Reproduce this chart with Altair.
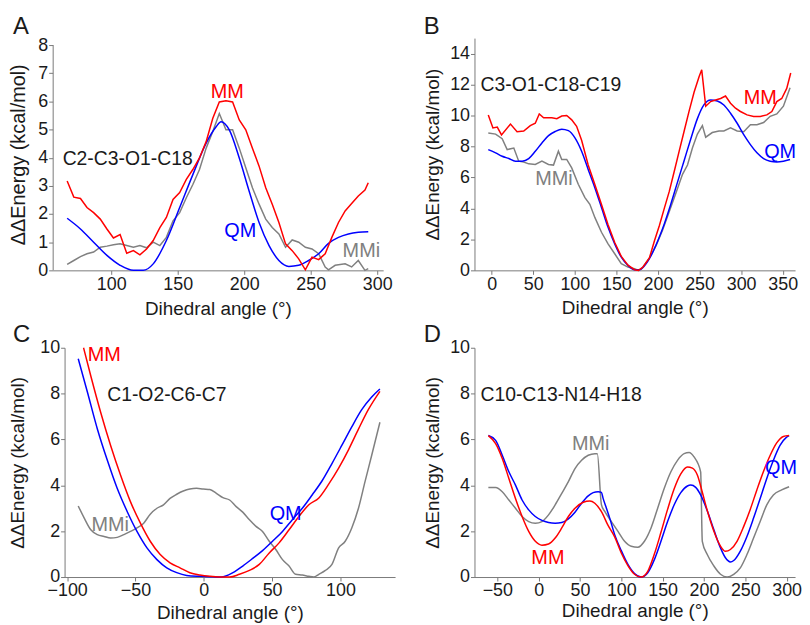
import altair as alt
import pandas as pd

FONT = "Liberation Sans"
RED, BLUE, GRAY, BLACK = "#ff0000", "#0000ff", "#808080", "#1a1a1a"
AXIS = "#7a7a7a"

# ---------------- Panel A : C2-C3-O1-C18 ----------------
a_mm_angle = [66.9, 71.9, 76.9, 81.8, 86.8, 91.8, 96.8, 101.7, 106.7, 111.7, 116.7, 121.6, 126.6, 131.6, 136.6,
              141.5, 146.5, 151.5, 156.5, 161.4, 166.4, 171.4, 176.4, 181.3, 186.3, 191.3, 196.3, 201.2, 206.2,
              211.2, 216.2, 221.1, 226.1, 231.1, 236.1, 241.0, 246.0, 251.0, 256.0, 260.9, 265.9, 270.9, 275.9,
              280.8, 285.8, 290.8, 293.3]
a_mm_energy = [3.17, 2.60, 2.55, 2.23, 2.05, 1.82, 1.47, 1.15, 1.27, 0.61, 0.70, 0.55, 0.76, 1.06, 1.52,
               1.88, 2.52, 2.76, 3.23, 3.58, 3.99, 4.57, 5.40, 5.98, 6.02, 5.98, 5.34, 4.99, 4.34,
               3.70, 2.93, 2.35, 1.70, 0.94, 0.70, 0.41, 0.02, 0.47, 0.38, 0.59, 1.17, 1.70, 2.11,
               2.37, 2.64, 2.85, 3.11]
a_qm_angle = [66.9, 76.9, 86.8, 96.8, 106.7, 116.7, 124.1, 131.6, 141.5, 151.5, 161.4, 171.4, 178.9, 182.6,
              188.8, 196.3, 203.7, 211.2, 218.7, 226.1, 233.6, 241.0, 248.5, 256.0, 263.4, 270.9, 278.4,
              285.8, 293.3]
a_qm_energy = [1.85, 1.47, 1.00, 0.53, 0.18, 0.00, 0.00, 0.23, 1.06, 2.23, 3.40, 4.52, 5.10, 5.28,
               4.99, 3.99, 2.82, 1.70, 0.88, 0.35, 0.14, 0.18, 0.35, 0.59, 0.96, 1.17, 1.29,
               1.35, 1.37]
a_mmi_angle = [66.9, 71.9, 76.9, 81.8, 86.8, 91.8, 96.8, 101.7, 106.7, 111.7, 116.7, 121.6, 126.6, 131.6,
               136.6, 141.5, 146.5, 151.5, 156.5, 161.4, 166.4, 171.4, 176.4, 181.3, 186.3, 191.3, 196.3,
               201.2, 206.2, 211.2, 216.2, 221.1, 226.1, 231.1, 236.1, 241.0, 246.0, 251.0, 256.0, 260.9,
               263.4, 268.4, 275.9, 280.8, 285.8, 290.8, 293.3]
a_mmi_energy = [0.21, 0.35, 0.49, 0.59, 0.65, 0.82, 0.86, 0.91, 0.94, 0.88, 0.82, 0.88, 0.80, 1.00,
                0.88, 1.17, 1.76, 2.05, 2.58, 3.05, 3.58, 4.34, 4.93, 5.57, 4.99, 4.99, 4.34,
                3.64, 2.93, 2.35, 1.82, 1.52, 1.29, 0.82, 1.08, 1.00, 0.82, 0.76, 0.59, 0.12,
                0.02, 0.18, 0.23, 0.12, 0.35, 0.00, 0.06]
a_label_text = ["MM", "QM", "MMi"]
a_label_x = [187.3, 197.0, 288.1]
a_label_y = [6.34, 1.41, 0.70]

# ---------------- Panel B : C3-O1-C18-C19 ----------------
b_mm_angle = [-4.0, 1.6, 6.8, 11.9, 22.7, 30.6, 38.6, 46.5, 52.5, 57.3, 62.5, 72.4, 78.4, 84.3, 90.3,
              96.3, 102.2, 108.2, 116.1, 124.1, 132.1, 140.0, 148.0, 155.9, 163.9, 171.8, 176.6, 181.8,
              189.7, 195.7, 201.7, 207.6, 213.6, 219.6, 225.5, 231.5, 237.5, 243.4, 249.4, 252.6, 257.4,
              263.3, 269.3, 275.3, 281.2, 287.2, 293.2, 299.1, 307.1, 315.0, 323.0, 330.9, 336.9, 342.9,
              348.8, 354.8, 359.6]
b_mm_energy = [10.04, 9.20, 9.25, 8.75, 9.45, 8.95, 9.00, 9.35, 9.50, 10.10, 9.85, 9.85, 9.80, 9.97, 10.00,
               9.72, 9.30, 8.40, 6.80, 5.55, 4.25, 2.95, 1.80, 0.90, 0.33, 0.04, 0.00, 0.20,
               0.80, 1.90, 2.90, 4.00, 5.10, 6.40, 7.70, 9.00, 10.30, 11.50, 12.50, 12.95, 10.60,
               10.90, 11.00, 11.10, 11.26, 10.79, 10.47, 10.26, 10.04, 9.94, 9.94, 10.04, 10.26, 10.90,
               11.10, 11.75, 12.75]
b_qm_angle = [-4.0, 4.8, 12.7, 20.7, 28.6, 36.6, 44.6, 52.5, 60.5, 68.4, 76.4, 84.3, 92.3, 100.2, 108.2,
              116.1, 124.1, 132.1, 140.0, 148.0, 155.9, 163.9, 171.8, 177.8, 183.8, 191.7, 199.7, 207.6,
              215.6, 223.5, 231.5, 239.5, 247.4, 255.4, 263.3, 271.3, 279.2, 287.2, 295.2, 303.1, 311.1,
              319.0, 327.0, 334.9, 342.9, 350.8, 358.8]
b_qm_energy = [7.80, 7.59, 7.37, 7.22, 7.05, 7.05, 7.22, 7.69, 8.23, 8.70, 8.97, 9.12, 9.02, 8.55, 7.69,
               6.52, 5.34, 4.06, 2.78, 1.71, 0.85, 0.32, 0.04, 0.04, 0.30, 0.95, 1.90, 3.00,
               4.30, 5.70, 7.10, 8.50, 9.80, 10.70, 11.00, 10.94, 10.68, 10.15, 9.50, 8.76, 8.12,
               7.59, 7.22, 7.05, 7.00, 7.05, 7.16]
b_mmi_angle = [-4.0, 4.8, 12.7, 18.7, 26.7, 32.6, 38.6, 44.6, 52.5, 60.5, 68.4, 74.4, 80.3, 84.3, 90.3,
               96.3, 104.2, 112.2, 118.1, 124.1, 132.1, 140.0, 148.0, 155.9, 163.9, 171.8, 176.6, 181.8,
               189.7, 197.7, 205.6, 213.6, 221.6, 229.5, 235.5, 241.4, 247.4, 253.4, 257.4, 265.3, 273.3,
               279.2, 287.2, 295.2, 303.1, 311.1, 319.0, 327.0, 334.9, 342.9, 350.8, 358.8]
b_mmi_energy = [8.87, 8.80, 8.50, 7.80, 7.90, 7.05, 7.00, 6.88, 6.84, 7.05, 6.84, 6.80, 7.70, 7.16, 7.16,
                6.62, 5.56, 4.70, 4.27, 3.42, 2.46, 1.71, 1.07, 0.43, 0.21, 0.10, 0.00, 0.20,
                0.80, 1.60, 2.60, 3.80, 5.00, 6.20, 6.80, 7.90, 8.80, 9.35, 8.60, 8.90, 9.00,
                9.00, 9.20, 9.00, 8.95, 9.40, 9.40, 9.55, 9.95, 10.10, 10.60, 11.80]
b_label_text = ["MM", "QM", "MMi"]
b_label_x = [323.1, 346.9, 74.9]
b_label_y = [11.1, 7.64, 5.91]

# ---------------- Panel C : C1-O2-C6-C7 ----------------
c_mm_angle = [-88.0, -82.7, -75.5, -68.2, -60.9, -53.7, -46.4, -39.2, -31.9, -24.7, -17.4, -10.2, -2.9, 4.4,
              11.6, 18.9, 26.1, 33.4, 40.6, 47.9, 55.1, 62.4, 69.6, 76.9, 84.2, 91.4, 98.7, 105.9, 113.2,
              120.4, 128.9]
c_mm_energy = [10.00, 8.77, 7.19, 5.74, 4.44, 3.29, 2.35, 1.56, 0.98, 0.62, 0.40, 0.19, 0.09, 0.03,
               0.00, 0.00, 0.12, 0.29, 0.55, 1.05, 1.49, 2.06, 2.64, 3.15, 3.45, 4.05, 4.75, 5.55, 6.45,
               7.30, 8.10]
c_qm_angle = [-91.9, -85.1, -77.9, -70.6, -63.4, -56.1, -48.9, -41.6, -34.3, -27.1, -19.8, -12.6, -2.9, 6.8,
              12.8, 21.3, 28.5, 35.8, 43.0, 50.3, 57.6, 64.8, 72.1, 79.3, 86.6, 93.8, 101.1, 108.3, 115.6,
              122.9, 128.9]
c_qm_energy = [9.52, 8.05, 6.46, 5.09, 3.87, 2.86, 1.99, 1.27, 0.76, 0.40, 0.19, 0.07, 0.03, 0.01,
               0.00, 0.19, 0.48, 0.81, 1.15, 1.56, 1.99, 2.50, 3.00, 3.58, 4.20, 4.95, 5.75, 6.55, 7.30,
               7.85, 8.20]
c_mmi_angle = [-91.9, -87.5, -82.7, -77.9, -73.0, -68.2, -63.4, -58.5, -53.7, -48.9, -44.0, -39.2, -34.3,
               -29.5, -24.7, -19.8, -15.0, -10.2, -5.3, -0.5, 4.4, 9.2, 14.0, 18.9, 23.7, 28.5, 33.4, 38.2,
               43.0, 47.9, 52.7, 57.6, 62.4, 67.2, 72.1, 76.9, 80.5, 84.2, 89.0, 93.8, 98.7, 103.5, 108.3,
               113.2, 118.0, 122.9, 128.9]
c_mmi_energy = [3.10, 2.57, 2.06, 1.85, 1.77, 1.70, 1.73, 1.85, 1.99, 2.14, 2.35, 2.74, 3.00,
                3.15, 3.43, 3.61, 3.75, 3.84, 3.87, 3.84, 3.82, 3.65, 3.46, 3.36, 3.07, 2.83, 2.50, 2.21,
                1.99, 1.56, 1.20, 0.76, 0.48, 0.12, 0.09, 0.03, 0.00, 0.12, 0.29, 0.55, 1.27, 1.56, 2.14,
                3.00, 4.16, 5.31, 6.75]
c_label_text = ["MM", "QM", "MMi"]
c_label_x = [-72.9, 59.9, -68.5]
c_label_y = [9.7, 2.73, 2.25]

# ---------------- Panel D : C10-C13-N14-H18 ----------------
d_mm_angle = [-60.8, -52, -44, -36, -28, -20, -12, -4, 4, 12, 20, 28, 36, 44, 54, 62, 68, 76, 84, 92,
              100, 108, 116, 124, 132, 140, 148, 156, 164, 172, 180, 186, 192, 198, 204, 212, 220, 226,
              232, 240, 248, 256, 264, 272, 280, 288, 296, 303]
d_mm_energy = [6.17, 5.82, 5.17, 4.30, 3.43, 2.64, 1.99, 1.56, 1.39, 1.44, 1.70, 2.14, 2.64, 3.00, 3.26,
               3.32, 3.22, 2.85, 2.25, 1.75, 1.05, 0.50, 0.12, 0.00, 0.25, 1.00, 1.95, 2.95, 3.85, 4.50,
               4.80, 4.75, 4.45, 3.70, 2.90, 2.00, 1.35, 1.12, 1.20, 1.56, 2.20, 2.95, 3.80, 4.60, 5.30,
               5.85, 6.13, 6.17]
d_qm_angle = [-60.8, -52, -44, -36, -28, -20, -12, -4, 4, 12, 20, 28, 36, 44, 52, 60, 66, 72, 76, 78, 82,
              86, 92, 100, 108, 116, 124, 132, 140, 148, 156, 164, 172, 180, 184, 190, 196, 204, 212, 220,
              226, 232, 236, 244, 252, 260, 268, 276, 284, 292, 300, 303]
d_qm_energy = [6.17, 5.96, 5.31, 4.59, 4.01, 3.36, 2.93, 2.64, 2.47, 2.38, 2.35, 2.38, 2.54, 2.83, 3.22,
               3.54, 3.68, 3.72, 3.69, 3.43, 3.00, 2.57, 1.85, 1.15, 0.55, 0.15, 0.00, 0.19, 0.76, 1.56,
               2.42, 3.15, 3.68, 3.97, 4.01, 3.91, 3.58, 2.89, 2.06, 1.27, 0.84, 0.66, 0.72, 1.13, 1.77,
               2.57, 3.43, 4.30, 5.09, 5.74, 6.10, 6.17]
d_mmi_angle = [-60.8, -52, -44, -36, -28, -20, -12, -4, 4, 12, 20, 28, 36, 44, 52, 60, 68, 71, 76, 80, 88,
               96, 104, 112, 120, 128, 136, 144, 152, 160, 168, 176, 182, 188, 196, 198, 204, 212, 220,
               228, 236, 244, 252, 260, 268, 276, 284, 294, 303]
d_mmi_energy = [3.90, 3.90, 3.72, 3.36, 3.00, 2.64, 2.42, 2.35, 2.42, 2.71, 3.15, 3.65, 4.16, 4.73, 5.09,
                5.31, 5.38, 5.38, 3.15, 2.86, 2.42, 1.99, 1.56, 1.34, 1.30, 1.56, 2.14, 3.00, 3.87, 4.59,
                5.09, 5.38, 5.43, 5.24, 4.59, 1.56, 0.98, 0.48, 0.12, 0.00, 0.12, 0.40, 0.98, 1.70, 2.42,
                3.15, 3.58, 3.80, 3.94]
d_label_text = ["MMi", "MM", "QM"]
d_label_x = [62.9, 11.2, 293.3]
d_label_y = [5.8, 0.82, 4.76]

# tick values
a_xticks = [100, 150, 200, 250, 300]
a_yticks = [0, 1, 2, 3, 4, 5, 6, 7, 8]
b_xticks = [0, 50, 100, 150, 200, 250, 300, 350]
b_yticks = [0, 2, 4, 6, 8, 10, 12, 14]
c_xticks = [-100, -50, 0, 50, 100]
c_yticks = [0, 2, 4, 6, 8, 10]
d_xticks = [-50, 0, 50, 100, 150, 200, 250, 300]
d_yticks = [0, 2, 4, 6, 8, 10]

COLORS = {"MM": RED, "QM": BLUE, "MMi": GRAY}


def panel(series, lab_text, lab_x, lab_y, dihedral, dihedral_xy, letter, letter_xy,
          xdom, ydom, width, height, xticks, yticks, ytitle_x, xtitle_y,
          xrange_px=None, y_offset=0, ytitle_size=19, axis_top=None):
    xs_args = dict(domain=xdom, nice=False, zero=False)
    if xrange_px is not None:
        xs_args["range"] = xrange_px
    xs = alt.Scale(**xs_args)
    ys = alt.Scale(domain=ydom, nice=False, zero=False)
    xaxis = alt.Axis(values=xticks, title="Dihedral angle (°)", titleY=xtitle_y, grid=False)
    yargs = dict(values=yticks, title="ΔΔEnergy (kcal/mol)", titleX=ytitle_x, grid=False,
                 titleFontSize=ytitle_size)
    if y_offset:
        yargs["offset"] = y_offset
    if axis_top is not None:
        yargs["domain"] = False
    yaxis = alt.Axis(**yargs)

    layers = []
    if axis_top is not None:
        layers.append(
            alt.Chart(pd.DataFrame({"energy": [0], "hi": [axis_top]}))
            .mark_rule(color=AXIS, strokeWidth=1)
            .encode(x=alt.value(0.5), y=alt.Y("energy:Q", scale=ys, axis=yaxis), y2="hi:Q")
        )
    for angle, energy, color, interp in series:
        df = pd.DataFrame({"angle": angle, "energy": energy})
        layers.append(
            alt.Chart(df).mark_line(color=color, strokeWidth=1.5, interpolate=interp).encode(
                x=alt.X("angle:Q", scale=xs, axis=xaxis),
                y=alt.Y("energy:Q", scale=ys, axis=yaxis),
            )
        )
    ldf = pd.DataFrame({"angle": lab_x, "energy": lab_y, "label": lab_text,
                        "c": [COLORS[t] for t in lab_text]})
    layers.append(
        alt.Chart(ldf).mark_text(font=FONT, fontSize=20, baseline="middle").encode(
            x=alt.X("angle:Q", scale=xs, axis=xaxis),
            y=alt.Y("energy:Q", scale=ys, axis=yaxis),
            text="label:N",
            color=alt.Color("c:N", scale=None),
        )
    )
    ddf = pd.DataFrame({"angle": [dihedral_xy[0]], "energy": [dihedral_xy[1]], "label": [dihedral]})
    layers.append(
        alt.Chart(ddf).mark_text(font=FONT, fontSize=19.5, align="left", baseline="middle",
                                 color=BLACK).encode(
            x=alt.X("angle:Q", scale=xs, axis=xaxis),
            y=alt.Y("energy:Q", scale=ys, axis=yaxis),
            text="label:N",
        )
    )
    layers.append(
        alt.Chart(pd.DataFrame({"t": [letter]})).mark_text(
            font=FONT, fontSize=24, align="left", baseline="alphabetic", color=BLACK
        ).encode(x=alt.value(letter_xy[0]), y=alt.value(letter_xy[1]), text="t:N")
    )
    return alt.layer(*layers).properties(width=width, height=height)


A = panel(
    [(a_mmi_angle, a_mmi_energy, GRAY, "linear"),
     (a_qm_angle, a_qm_energy, BLUE, "monotone"),
     (a_mm_angle, a_mm_energy, RED, "linear")],
    a_label_text, a_label_x, a_label_y, "C2-C3-O1-C18", (63.5, 3.95), "A", (-40, -4),
    [56, 304.5], [0, 8.247], 333, 234, a_xticks, a_yticks, -24, 29,
    ytitle_size=20, axis_top=8,
)
B = panel(
    [(b_mmi_angle, b_mmi_energy, GRAY, "linear"),
     (b_qm_angle, b_qm_energy, BLUE, "monotone"),
     (b_mm_angle, b_mm_energy, RED, "linear")],
    b_label_text, b_label_x, b_label_y, "C3-O1-C18-C19", (-13.4, 11.95), "B", (-51, -4),
    [-20.6, 364.8], [0, 15], 323, 234, b_xticks, b_yticks, -32, 28.5,
)
C = panel(
    [(c_mmi_angle, c_mmi_energy, GRAY, "monotone"),
     (c_qm_angle, c_qm_energy, BLUE, "monotone"),
     (c_mm_angle, c_mm_energy, RED, "monotone")],
    c_label_text, c_label_x, c_label_y, "C1-O2-C6-C7", (-70.7, 7.92), "C", (-40, -6),
    [-101.9, 140], [0, 10], 345, 231, c_xticks, c_yticks, -37, 27,
    xrange_px=[12, 345], y_offset=-12,
)
D = panel(
    [(d_mmi_angle, d_mmi_energy, GRAY, "monotone"),
     (d_qm_angle, d_qm_energy, BLUE, "monotone"),
     (d_mm_angle, d_mm_energy, RED, "monotone")],
    d_label_text, d_label_x, d_label_y, "C10-C13-N14-H18", (-70.4, 7.92), "D", (-51, -6),
    [-77.6, 310.2], [0, 10], 323, 231, d_xticks, d_yticks, -32, 25,
)

chart = (
    alt.concat(A, B, C, D, columns=2, spacing={"row": 78, "column": 80}, bounds="flush")
    .properties(padding={"left": 0, "top": 5, "right": 0, "bottom": 0})
    .configure_view(stroke=None)
    .configure_axis(
        labelFont=FONT, titleFont=FONT, labelFontSize=18, titleFontSize=19,
        labelColor=BLACK, titleColor=BLACK, titleFontWeight="normal",
        domainColor=AXIS, tickColor=AXIS, tickSize=4, labelPadding=2, grid=False,
    )
    .configure_axisX(labelPadding=1)
    .configure_axisY(labelPadding=1)
)

chart.save("out.html", embed_options={"renderer": "svg", "actions": False})
